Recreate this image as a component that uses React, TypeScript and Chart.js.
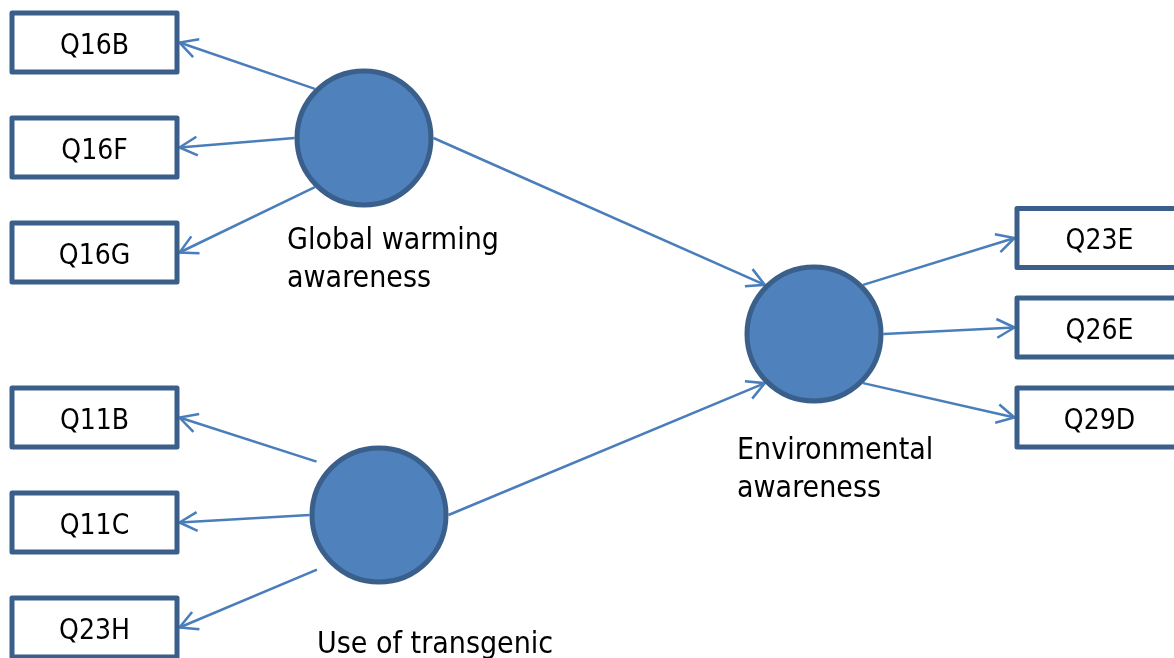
import { useEffect, useRef } from "react";
import { Chart, registerables } from "chart.js";

Chart.register(...registerables);

// ---- Data (diagram coordinates, canvas units) ----
const latentNames = ["Global warming\nawareness", "Use of transgenic", "Environmental\nawareness"];
const latentX = [364, 379, 814];
const latentY = [138, 515, 334];
const latentLabelX = [287, 317, 737];
const latentLabelY = [249, 653, 459];

const indicatorNames = ["Q16B", "Q16F", "Q16G", "Q11B", "Q11C", "Q23H", "Q23E", "Q26E", "Q29D"];
const indicatorX = [94.5, 94.5, 94.5, 94.5, 94.5, 94.5, 1099.5, 1099.5, 1099.5];
const indicatorY = [42.5, 147.5, 252.5, 417.5, 522.5, 627.5, 238, 327.5, 417.5];

// edges: source latent, anchor angle on source circle, target indicator (or -1), target latent (or -1), anchor angle on target circle
const edgeFrom = [0, 0, 0, 0, 1, 1, 1, 1, 2, 2, 2];
const edgeFromAngle = [135, 180, 225, 0, 135, 180, 225, 0, 45, 0, 315];
const edgeToIndicator = [0, 1, 2, -1, 3, 4, 5, -1, 6, 7, 8];
const edgeToLatent = [-1, -1, -1, 2, -1, -1, -1, 2, -1, -1, -1];
const edgeToAngle = [0, 0, 0, 135, 0, 0, 0, 225, 0, 0, 0];
const edgeStartGap = [0, 0, 0, 0, 14, 0, 14, 0, 0, 0, 0];

// ---- Styles ----
const W = 1174;
const H = 658;
const CIRCLE_R = 67;
const CIRCLE_BORDER = 5;
const BOX_W = 165;
const BOX_H = 59;
const BOX_BORDER = 5;
const LINE_COLOR = "#4A7EBB";
const DARK = "#3A5F8B";
const FILL = "#4F81BD";
const FONT_FAMILY = '"DejaVu Sans Condensed", "DejaVu Sans", sans-serif';

function drawArrow(ctx: CanvasRenderingContext2D, x1: number, y1: number, x2: number, y2: number) {
  ctx.beginPath();
  ctx.moveTo(x1, y1);
  ctx.lineTo(x2, y2);
  ctx.stroke();
  const ang = Math.atan2(y1 - y2, x1 - x2);
  const L = 20;
  const a = (28 * Math.PI) / 180;
  ctx.beginPath();
  ctx.moveTo(x2 + L * Math.cos(ang + a), y2 + L * Math.sin(ang + a));
  ctx.lineTo(x2, y2);
  ctx.lineTo(x2 + L * Math.cos(ang - a), y2 + L * Math.sin(ang - a));
  ctx.stroke();
}

const diagramPlugin = {
  id: "pathDiagram",
  beforeDatasetsDraw(chart: any) {
    const { ctx, scales } = chart;
    const xs = scales.x;
    const ys = scales.y;
    const rOut = CIRCLE_R + CIRCLE_BORDER / 2;
    ctx.save();
    ctx.strokeStyle = LINE_COLOR;
    ctx.lineWidth = 2.5;
    ctx.lineCap = "butt";
    ctx.lineJoin = "miter";
    for (let i = 0; i < edgeFrom.length; i++) {
      const s = edgeFrom[i];
      const cx = xs.getPixelForValue(latentX[s]);
      const cy = ys.getPixelForValue(latentY[s]);
      const fa = (edgeFromAngle[i] * Math.PI) / 180;
      let x1 = cx + rOut * Math.cos(fa);
      let y1 = cy - rOut * Math.sin(fa);
      let x2: number;
      let y2: number;
      if (edgeToIndicator[i] >= 0) {
        const k = edgeToIndicator[i];
        const bx = xs.getPixelForValue(indicatorX[k]);
        const by = ys.getPixelForValue(indicatorY[k]);
        const half = BOX_W / 2 + BOX_BORDER / 2;
        x2 = bx < cx ? bx + half : bx - half;
        y2 = by;
      } else {
        const t = edgeToLatent[i];
        const tx = xs.getPixelForValue(latentX[t]);
        const ty = ys.getPixelForValue(latentY[t]);
        const ta = (edgeToAngle[i] * Math.PI) / 180;
        x2 = tx + rOut * Math.cos(ta);
        y2 = ty - rOut * Math.sin(ta);
      }
      const g = edgeStartGap[i];
      if (g) {
        const len = Math.hypot(x2 - x1, y2 - y1);
        x1 += ((x2 - x1) / len) * g;
        y1 += ((y2 - y1) / len) * g;
      }
      drawArrow(ctx, x1, y1, x2, y2);
    }
    ctx.restore();
  },
  afterDatasetsDraw(chart: any) {
    const { ctx, scales } = chart;
    const xs = scales.x;
    const ys = scales.y;
    ctx.save();
    ctx.lineWidth = BOX_BORDER;
    ctx.strokeStyle = DARK;
    ctx.lineJoin = "round";
    ctx.textAlign = "center";
    ctx.textBaseline = "alphabetic";
    for (let k = 0; k < indicatorNames.length; k++) {
      const bx = xs.getPixelForValue(indicatorX[k]);
      const by = ys.getPixelForValue(indicatorY[k]);
      ctx.fillStyle = "#ffffff";
      ctx.fillRect(bx - BOX_W / 2, by - BOX_H / 2, BOX_W, BOX_H);
      ctx.strokeRect(bx - BOX_W / 2, by - BOX_H / 2, BOX_W, BOX_H);
      ctx.fillStyle = "#000000";
      ctx.font = `28px ${FONT_FAMILY}`;
      ctx.fillText(indicatorNames[k], bx, by + 11);
    }
    ctx.textAlign = "left";
    ctx.font = `30px ${FONT_FAMILY}`;
    ctx.fillStyle = "#000000";
    for (let i = 0; i < latentNames.length; i++) {
      const lx = xs.getPixelForValue(latentLabelX[i]);
      const ly = ys.getPixelForValue(latentLabelY[i]);
      latentNames[i].split("\n").forEach((line, j) => {
        ctx.fillText(line, lx, ly + j * 38);
      });
    }
    ctx.restore();
  },
};

export default function App() {
  const ref = useRef<HTMLCanvasElement | null>(null);
  useEffect(() => {
    document.body.style.margin = "0";
    const canvas = ref.current;
    if (!canvas) return;
    const chart = new Chart(canvas, {
      type: "scatter",
      data: {
        datasets: [
          {
            label: "Latent variables",
            data: latentX.map((x, i) => ({ x, y: latentY[i] })),
            pointRadius: CIRCLE_R,
            pointHoverRadius: CIRCLE_R,
            pointBackgroundColor: FILL,
            pointBorderColor: DARK,
            pointBorderWidth: CIRCLE_BORDER,
            pointHoverBorderWidth: CIRCLE_BORDER,
            showLine: false,
            clip: false,
          },
        ],
      },
      options: {
        animation: false,
        responsive: false,
        events: [],
        layout: { padding: 0, autoPadding: false },
        plugins: { legend: { display: false }, tooltip: { enabled: false } },
        scales: {
          x: { type: "linear", min: 0, max: W, display: false },
          y: { type: "linear", min: 0, max: H, reverse: true, display: false },
        },
      },
      plugins: [diagramPlugin],
    });
    return () => chart.destroy();
  }, []);
  return (
    <div style={{ width: W, height: H, background: "#ffffff" }}>
      <canvas ref={ref} width={W} height={H} style={{ display: "block" }} />
    </div>
  );
}
